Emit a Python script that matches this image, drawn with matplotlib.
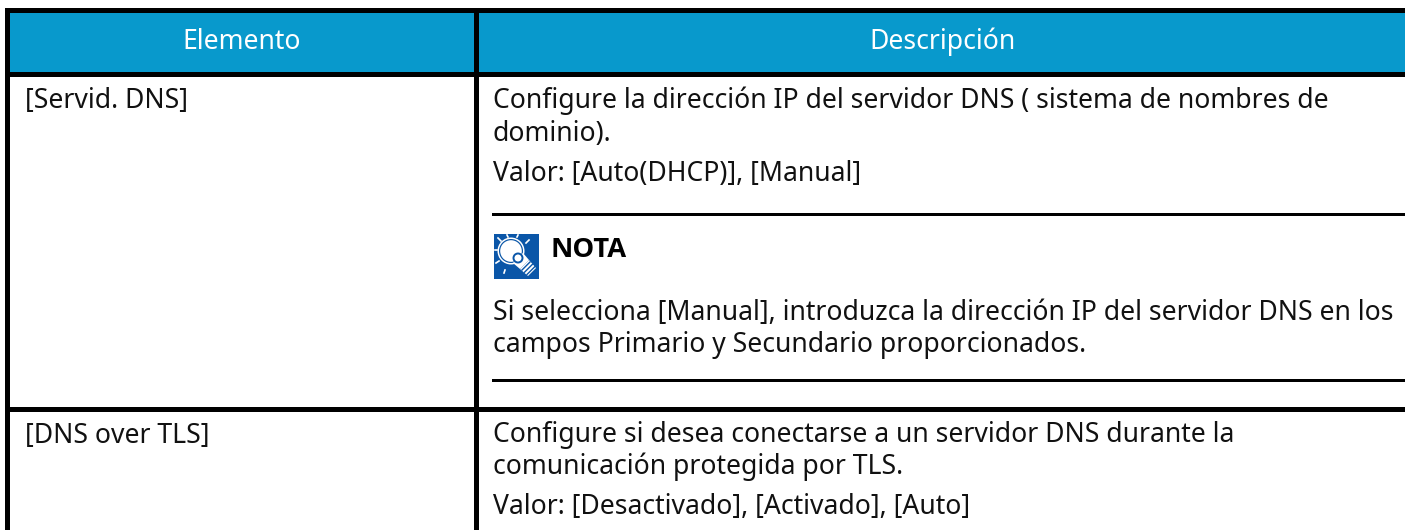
import matplotlib
matplotlib.use("Agg")
import matplotlib.pyplot as plt
from matplotlib.patches import Rectangle, Circle, Polygon

plt.rcParams["font.family"] = ["Noto Sans", "DejaVu Sans"]

# texto de la tabla
headers = ["Elemento", "Descripción"]
items = ["[Servid. DNS]", "[DNS over TLS]"]
dns_lines = [
    "Configure la dirección IP del servidor DNS ( sistema de nombres de",
    "dominio).",
    "Valor: [Auto(DHCP)], [Manual]",
]
note_title = "NOTA"
note_lines = [
    "Si selecciona [Manual], introduzca la dirección IP del servidor DNS en los",
    "campos Primario y Secundario proporcionados.",
]
tls_lines = [
    "Configure si desea conectarse a un servidor DNS durante la",
    "comunicación protegida por TLS.",
    "Valor: [Desactivado], [Activado], [Auto]",
]

W, H = 1405, 530
FS = 19.1
LINE_COL = "#000000"
HEAD_COL = "#0899cc"
TEXT_COL = "#111111"
ICON_COL = "#0a56a8"

fig = plt.figure(figsize=(W / 100, H / 100), dpi=100)
ax = fig.add_axes([0, 0, 1, 1])
ax.set_xlim(0, W)
ax.set_ylim(H, 0)
ax.axis("off")


def box(x0, y0, x1, y1, color, z=1):
    ax.add_patch(Rectangle((x0, y0), x1 - x0, y1 - y0, fc=color, ec="none", lw=0, zorder=z))


# cabecera y bordes
box(5, 8, W, 77, LINE_COL)
box(10, 13, 474, 72, HEAD_COL, 2)
box(479, 13, W, 72, HEAD_COL, 2)
box(5, 8, 10, H, LINE_COL)
box(474, 8, 479, H, LINE_COL)
box(5, 407, W, 412, LINE_COL)

# lineas de la nota
box(492, 213, W, 216, LINE_COL)
box(492, 379, W, 382, LINE_COL)

ax.text(242, 49, headers[0], color="white", fontsize=FS, ha="center", va="baseline")
ax.text(942, 49, headers[1], color="white", fontsize=FS, ha="center", va="baseline")

ax.text(25, 108, items[0], color=TEXT_COL, fontsize=FS, va="baseline")
ax.text(25, 443, items[1], color=TEXT_COL, fontsize=FS, va="baseline")

for y, s in zip([108, 141, 181], dns_lines):
    ax.text(493, y, s, color=TEXT_COL, fontsize=FS, va="baseline")
for y, s in zip([320, 352], note_lines):
    ax.text(493, y, s, color=TEXT_COL, fontsize=FS, va="baseline")
for y, s in zip([442, 474, 514], tls_lines):
    ax.text(493, y, s, color=TEXT_COL, fontsize=FS, va="baseline")

ax.text(550.5, 257, note_title, color="black", fontsize=19.7, fontweight="bold",
        family=["Open Sans", "DejaVu Sans"], va="baseline")

# icono de la bombilla
box(494, 234, 539, 279, ICON_COL, 3)
ax.add_patch(Circle((511, 251), 13.5, fc="white", ec="none", zorder=4))
ax.add_patch(Circle((511, 251), 12, fc=ICON_COL, ec="none", zorder=4))
ax.add_patch(Circle((511, 251), 10.8, fc="white", ec="none", zorder=4))
ax.add_patch(Polygon([(513, 263), (523, 253), (529, 260), (520, 269)], closed=True,
                     fc="white", ec="none", zorder=5))
ax.add_patch(Polygon([(520, 269), (529, 260), (536, 268), (528, 276)], closed=True,
                     fc="white", ec="none", zorder=5))
for d in [0, 2.5, 5]:
    ax.plot([522 + d, 530 + d], [270 + d * 0.9, 262 + d * 0.9], color=ICON_COL, lw=1, zorder=6)
ax.add_patch(Circle((518, 258), 4.5, fc="white", ec=ICON_COL, lw=1.4, zorder=6))
rays = [(498, 238, 501, 241), (507, 235, 508, 237), (518, 235, 517, 237), (529, 240, 526, 243),
        (495, 250, 497, 250), (496, 263, 499, 261), (504, 273, 505, 270)]
for x0, y0, x1, y1 in rays:
    ax.plot([x0, x1], [y0, y1], color="white", lw=1.2, zorder=4)

fig.savefig("out.png", dpi=100)
